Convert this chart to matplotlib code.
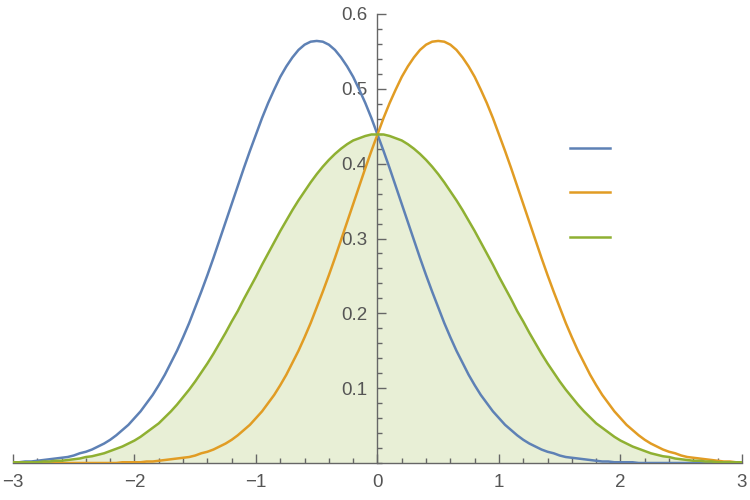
import matplotlib
matplotlib.use("Agg")
import matplotlib.pyplot as plt
from matplotlib.lines import Line2D
from matplotlib.ticker import MultipleLocator
import numpy as np

BLUE = "#5E81B5"
ORANGE = "#E19C24"
GREEN = "#8FB032"
AXIS = "#666666"
LABEL = "#555555"

# sample positions, -3 .. 3 in steps of 0.05
x = np.round(np.arange(-60, 61) / 20, 2)

blue = [0.001, 0.001, 0.002, 0.002, 0.003, 0.004, 0.005, 0.006, 0.007, 0.008,
        0.010, 0.013, 0.015, 0.018, 0.022, 0.026, 0.031, 0.037, 0.044, 0.051,
        0.060, 0.069, 0.080, 0.091, 0.104, 0.118, 0.134, 0.150, 0.168, 0.187,
        0.208, 0.229, 0.251, 0.274, 0.298, 0.322, 0.346, 0.370, 0.394, 0.417,
        0.439, 0.461, 0.481, 0.499, 0.516, 0.530, 0.542, 0.552, 0.559, 0.563,
        0.564,
        0.563, 0.559, 0.552, 0.542, 0.530, 0.516, 0.499, 0.481, 0.461, 0.439,
        0.417, 0.394, 0.370, 0.346, 0.322, 0.298, 0.274, 0.251, 0.229, 0.208,
        0.187, 0.168, 0.150, 0.134, 0.118, 0.104, 0.091, 0.080, 0.069, 0.060,
        0.051, 0.044, 0.037, 0.031, 0.026, 0.022, 0.018, 0.015, 0.013, 0.010,
        0.008, 0.007, 0.006, 0.005, 0.004, 0.003, 0.002, 0.002, 0.001, 0.001,
        0.001, 0.001, 0.000, 0.000, 0.000, 0.000, 0.000, 0.000, 0.000, 0.000,
        0.000, 0.000, 0.000, 0.000, 0.000, 0.000, 0.000, 0.000, 0.000, 0.000]

orange = [0.000, 0.000, 0.000, 0.000, 0.000, 0.000, 0.000, 0.000, 0.000, 0.000,
          0.000, 0.000, 0.000, 0.000, 0.000, 0.000, 0.000, 0.000, 0.001, 0.001,
          0.001, 0.001, 0.002, 0.002, 0.003, 0.004, 0.005, 0.006, 0.007, 0.008,
          0.010, 0.013, 0.015, 0.018, 0.022, 0.026, 0.031, 0.037, 0.044, 0.051,
          0.060, 0.069, 0.080, 0.091, 0.104, 0.118, 0.134, 0.150, 0.168, 0.187,
          0.208, 0.229, 0.251, 0.274, 0.298, 0.322, 0.346, 0.370, 0.394, 0.417,
          0.439, 0.461, 0.481, 0.499, 0.516, 0.530, 0.542, 0.552, 0.559, 0.563,
          0.564,
          0.563, 0.559, 0.552, 0.542, 0.530, 0.516, 0.499, 0.481, 0.461, 0.439,
          0.417, 0.394, 0.370, 0.346, 0.322, 0.298, 0.274, 0.251, 0.229, 0.208,
          0.187, 0.168, 0.150, 0.134, 0.118, 0.104, 0.091, 0.080, 0.069, 0.060,
          0.051, 0.044, 0.037, 0.031, 0.026, 0.022, 0.018, 0.015, 0.013, 0.010,
          0.008, 0.007, 0.006, 0.005, 0.004, 0.003, 0.002, 0.002, 0.001, 0.001]

green = [0.001, 0.001, 0.001, 0.001, 0.001, 0.002, 0.002, 0.003, 0.003, 0.004,
         0.005, 0.006, 0.008, 0.009, 0.011, 0.013, 0.016, 0.019, 0.022, 0.026,
         0.030, 0.035, 0.041, 0.047, 0.053, 0.061, 0.069, 0.078, 0.088, 0.098,
         0.109, 0.121, 0.133, 0.146, 0.160, 0.174, 0.189, 0.203, 0.219, 0.234,
         0.249, 0.265, 0.280, 0.295, 0.310, 0.324, 0.338, 0.351, 0.363, 0.375,
         0.386, 0.396, 0.405, 0.413, 0.420, 0.426, 0.431, 0.434, 0.437, 0.439,
         0.439,
         0.439, 0.437, 0.434, 0.431, 0.426, 0.420, 0.413, 0.405, 0.396, 0.386,
         0.375, 0.363, 0.351, 0.338, 0.324, 0.310, 0.295, 0.280, 0.265, 0.249,
         0.234, 0.219, 0.203, 0.189, 0.174, 0.160, 0.146, 0.133, 0.121, 0.109,
         0.098, 0.088, 0.078, 0.069, 0.061, 0.053, 0.047, 0.041, 0.035, 0.030,
         0.026, 0.022, 0.019, 0.016, 0.013, 0.011, 0.009, 0.008, 0.006, 0.005,
         0.004, 0.003, 0.003, 0.002, 0.002, 0.001, 0.001, 0.001, 0.001, 0.001]

x_ticks = [-3, -2, -1, 0, 1, 2, 3]
x_labels = ["\u22123", "\u22122", "\u22121", "0", "1", "2", "3"]
y_ticks = [0.1, 0.2, 0.3, 0.4, 0.5, 0.6]
y_labels = ["0.1", "0.2", "0.3", "0.4", "0.5", "0.6"]

plt.rcParams["font.family"] = ["Liberation Sans", "DejaVu Sans"]

fig = plt.figure(figsize=(7.5, 5), dpi=100)
ax = fig.add_axes([0.0173, 0.074, 0.972, 0.898])

ax.fill_between(x, green, color=GREEN, alpha=0.2, lw=0, zorder=1)
ax.plot(x, blue, color=BLUE, lw=1.8, zorder=3)
ax.plot(x, orange, color=ORANGE, lw=1.8, zorder=3)
ax.plot(x, green, color=GREEN, lw=1.8, zorder=3)

ax.set_xlim(-3, 3)
ax.set_ylim(0, 0.6)

for s in ("top", "right"):
    ax.spines[s].set_visible(False)
ax.spines["left"].set_position(("data", 0))
for s in ("left", "bottom"):
    ax.spines[s].set_color(AXIS)
    ax.spines[s].set_linewidth(1.0)

ax.set_xticks(x_ticks, x_labels)
ax.set_yticks(y_ticks, y_labels)
ax.xaxis.set_minor_locator(MultipleLocator(0.2))
ax.yaxis.set_minor_locator(MultipleLocator(0.02))
ax.tick_params(which="both", direction="in", color=AXIS, width=1.0,
               labelcolor=LABEL, labelsize=13.5)
ax.tick_params(which="major", length=6.5)
ax.tick_params(which="minor", length=3.6)
ax.tick_params(axis="x", pad=8)
ax.tick_params(axis="y", pad=7)

handles = [Line2D([], [], color=c, lw=1.8) for c in (BLUE, ORANGE, GREEN)]
ax.legend(handles, [" ", " ", " "], loc="center left",
          bbox_to_anchor=(0.764, 0.6015), frameon=False, borderpad=0,
          borderaxespad=0, handlelength=2.9, handletextpad=0,
          labelspacing=2.2, fontsize=10)

fig.savefig("out.png", dpi=100)
